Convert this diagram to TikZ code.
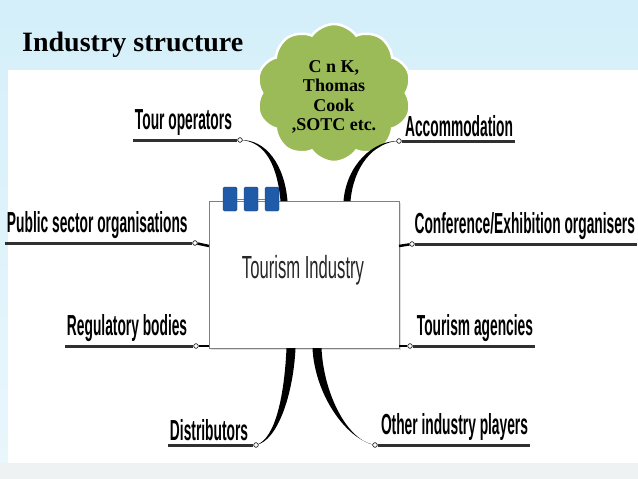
\documentclass[tikz,border=0pt]{standalone}
\usepackage{fontspec}
\usepackage{tikz}
\usetikzlibrary{shapes.symbols, positioning, calc, shadows}
\newfontfamily\titlefont{Liberation Serif}
\newfontfamily\lblfont{Liberation Sans}
\definecolor{skyblue}{HTML}{D4EFFA}
\definecolor{skypale}{HTML}{EAF7FC}
\definecolor{cloudgreen}{HTML}{9BBB59}
\definecolor{tabblue}{HTML}{1F5BA8}
\definecolor{lineg}{HTML}{303030}

\tikzset{
    lbl/.style={font=\lblfont\bfseries\fontsize{29}{31}\selectfont, xscale=0.475, inner xsep=4pt, inner ysep=4pt},
    uline/.style={line width=3pt, lineg},
    knob/.style={circle, draw=lineg, fill=white, line width=0.6pt, inner sep=1.6pt},
    taper/.style={fill=black},
    stub/.style={line width=2.5pt, black},
    tab/.style={fill=tabblue, draw=tabblue!70!black, rounded corners=1.5pt, minimum width=14pt, minimum height=24pt, inner sep=0pt}
}

\begin{document}
\begin{tikzpicture}[x=1pt, y=-1pt]
    \useasboundingbox (0,0) rectangle (638,479);
    % background
    \shade[top color=skyblue, bottom color=skypale] (0,0) rectangle (638,479);
    \fill[white] (8,70) rectangle (638,463);
    \fill[skypale!70!gray!30] (0,463) rectangle (638,479);

    % title
    \node[anchor=base west, inner sep=0pt, font=\titlefont\bfseries\fontsize{28}{30}\selectfont] (title) at (22,52) {Industry structure};

    % central box
    \node[draw=gray, fill=white, line width=0.8pt, minimum width=190pt, minimum height=147pt, inner sep=0pt,
          drop shadow={opacity=0.25, shadow xshift=1.5pt, shadow yshift=-2pt}] (box) at (304,274.5) {};
    \node[font=\lblfont\fontsize{32}{34}\selectfont, text=black!85, xscale=0.52] (boxtxt) at (303,270) {Tourism Industry};

    % tabs on the box
    \node[tab] (tab1) at (230,199) {};
    \node[tab] (tab2) at (251,199) {};
    \node[tab] (tab3) at (272,199) {};
    \draw[gray, line width=1pt] (tab1) -- (tab2) -- (tab3);

    % cloud
    \node[cloud, cloud puffs=10, cloud puff arc=110, aspect=1.15, fill=cloudgreen, draw=white, line width=2.5pt,
          minimum width=156pt, minimum height=138pt, inner sep=0pt] (cloud) at (334,93) {};
    \node[align=center, font=\titlefont\bfseries\fontsize{18}{19.5}\selectfont] (cloudtxt) at (334,97)
        {C n K,\\Thomas\\Cook\\,SOTC etc.};

    % labels
    \node[lbl, anchor=south west] (tour) at (133,140) {Tour operators};
    \node[lbl, anchor=south east] (acc) at (515,141) {Accommodation};
    \node[lbl, anchor=south west] (pub) at (5,243) {Public sector organisations};
    \node[lbl, anchor=south east] (conf) at (637,244) {Conference/Exhibition organisers};
    \node[lbl, anchor=south west] (reg) at (65,346) {Regulatory bodies};
    \node[lbl, anchor=south east] (agen) at (535,346) {Tourism agencies};
    \node[lbl, anchor=south west] (dist) at (168,445) {Distributors};
    \node[lbl, anchor=south east] (other) at (530,445) {Other industry players};

    % end points on the box
    \coordinate (tourA) at (284,201);
    \coordinate (accA) at (347,201);
    \coordinate (distA) at (291,348);
    \coordinate (otherA) at (317,348);
    \coordinate (pubA) at (209,246);
    \coordinate (confA) at (399,246);
    \coordinate (regA) at (209,348);
    \coordinate (agenA) at (399,348);

    % knobs
    \node[knob] (tourK) at (240,140) {};
    \node[knob] (accK) at (399,141) {};
    \node[knob] (pubK) at (195,243) {};
    \node[knob] (confK) at (412,244) {};
    \node[knob] (regK) at (196,346) {};
    \node[knob] (agenK) at (410,346) {};
    \node[knob] (distK) at (256,445) {};
    \node[knob] (otherK) at (375,445) {};

    % tapered branches
    \fill[taper] (tourK.center) .. controls +(26,1) and +(-3,-34) .. ([xshift=-3.5pt]tourA)
        -- ([xshift=3.5pt]tourA) .. controls +(-3,-36) and +(26,-1) .. (tourK.center);
    \fill[taper] (accK.center) .. controls +(-26,1) and +(3,-34) .. ([xshift=3.5pt]accA)
        -- ([xshift=-3.5pt]accA) .. controls +(3,-36) and +(-26,-1) .. (accK.center);
    \fill[taper] (distK.center) .. controls +(20,-6) and +(-2,45) .. ([xshift=-4.5pt]distA)
        -- ([xshift=4.5pt]distA) .. controls +(-2,45) and +(22,-4) .. (distK.center);
    \fill[taper] (otherK.center) .. controls +(-28,-4) and +(2,45) .. ([xshift=4.5pt]otherA)
        -- ([xshift=-4.5pt]otherA) .. controls +(2,45) and +(-30,-6) .. (otherK.center);

    % short stubs
    \draw[stub] (pubK) -- (pubA);
    \draw[stub] (confK) -- (confA);
    \draw[stub] (regK) -- ([yshift=2pt]regA);
    \draw[stub] (agenK) -- ([yshift=2pt]agenA);

    % underlines
    \draw[uline] (tour.south west) -- (tourK);
    \draw[uline] (accK) -- (acc.south east);
    \draw[uline] (pub.south west) -- (pubK);
    \draw[uline] (confK) -- (conf.south east);
    \draw[uline] (reg.south west) -- (regK);
    \draw[uline] (agenK) -- (agen.south east);
    \draw[uline] (dist.south west) -- (distK);
    \draw[uline] (otherK) -- (other.south east);

    % knobs on top
    \foreach \k in {tourK, accK, pubK, confK, regK, agenK, distK, otherK}
        \node[knob] at (\k) {};
\end{tikzpicture}
\end{document}
